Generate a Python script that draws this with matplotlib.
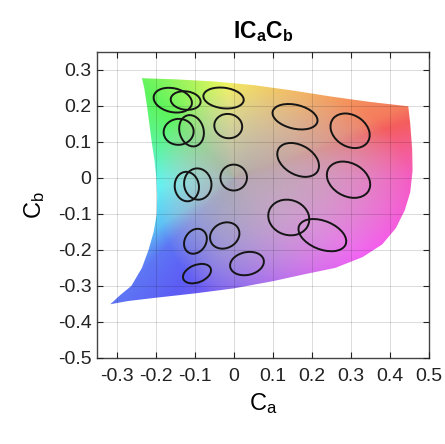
import matplotlib.pyplot as plt
import numpy as np
from matplotlib.patches import Ellipse, Polygon
from matplotlib.colors import hsv_to_rgb

plt.rcParams['font.family'] = ['Liberation Sans', 'DejaVu Sans']
plt.rcParams['mathtext.fontset'] = 'custom'
plt.rcParams['mathtext.rm'] = 'Liberation Sans'
plt.rcParams['mathtext.it'] = 'Liberation Sans'
plt.rcParams['mathtext.bf'] = 'Liberation Sans:bold'
plt.rcParams['axes.unicode_minus'] = False

# gamut outline in the Ca-Cb plane (clockwise from top-left corner)
gamut_ca = [-0.235, -0.15, -0.05, 0.05, 0.15, 0.25, 0.35, 0.447,
            0.452, 0.457, 0.458, 0.452, 0.438, 0.415, 0.38, 0.33, 0.26, 0.18,
            0.10, 0.0, -0.10, -0.20, -0.27, -0.316,
            -0.29, -0.262, -0.235, -0.218, -0.205, -0.197, -0.196, -0.198,
            -0.203, -0.21, -0.216, -0.222, -0.229]
gamut_cb = [0.277, 0.274, 0.268, 0.258, 0.243, 0.226, 0.211, 0.199,
            0.15, 0.08, 0.02, -0.04, -0.09, -0.14, -0.185, -0.22, -0.25, -0.268,
            -0.287, -0.307, -0.321, -0.333, -0.342, -0.351,
            -0.325, -0.30, -0.25, -0.20, -0.15, -0.10, -0.05, 0.0,
            0.05, 0.10, 0.15, 0.20, 0.25]

# discrimination ellipses: centre, full axes, rotation (deg)
ell_ca = [-0.156, -0.123, -0.026, -0.141, -0.108, -0.014, 0.157, 0.298, 0.165, 0.294,
          -0.120, -0.092, 0.000, 0.141, 0.227, -0.098, -0.023, 0.034, -0.094]
ell_cb = [0.216, 0.215, 0.222, 0.128, 0.131, 0.144, 0.170, 0.131, 0.050, -0.005,
          -0.024, -0.017, 0.001, -0.110, -0.159, -0.176, -0.160, -0.238, -0.266]
ell_w = [0.100, 0.077, 0.104, 0.077, 0.062, 0.072, 0.118, 0.110, 0.118, 0.120,
         0.062, 0.070, 0.068, 0.108, 0.130, 0.055, 0.080, 0.088, 0.076]
ell_h = [0.066, 0.051, 0.057, 0.072, 0.088, 0.067, 0.066, 0.085, 0.080, 0.090,
         0.082, 0.087, 0.072, 0.096, 0.078, 0.072, 0.068, 0.063, 0.048]
ell_ang = [-15, -8, -8, 10, 12, -20, -15, -40, -35, -35,
           5, 5, 0, -30, -25, -25, 40, 15, 25]

xticks = [-0.3, -0.2, -0.1, 0, 0.1, 0.2, 0.3, 0.4, 0.5]
yticks = [-0.5, -0.4, -0.3, -0.2, -0.1, 0, 0.1, 0.2, 0.3]

fig = plt.figure(figsize=(4.45, 4.44), dpi=100)
ax = fig.add_axes([0.218, 0.194, 0.746, 0.689])

# colour the gamut: hue from direction, saturation rising towards the rim
gx, gy = np.meshgrid(np.linspace(-0.33, 0.47, 400), np.linspace(-0.36, 0.29, 400))
u = np.where(gx > 0, gx / 0.45, gx / 0.2)
v = np.where(gy > 0, gy / 0.27, gy / 0.34)
r = np.clip(np.hypot(u, v), 0, 1)
phi = np.degrees(np.arctan2(gy, gx)) % 360
hue = np.interp(phi, [0, 13, 24, 50, 90, 130, 180, 215, 228, 270, 310, 360],
                [320, 345, 372, 392, 415, 475, 535, 560, 590, 615, 650, 680]) % 360 / 360
sat = 0.08 + 0.54 * r ** 1.6
val = 0.71 + 0.25 * r ** 1.2
rgb = hsv_to_rgb(np.dstack([hue, sat, val]))

outline = Polygon(np.column_stack([gamut_ca, gamut_cb]), closed=True,
                  facecolor='none', edgecolor='none')
ax.add_patch(outline)
img = ax.imshow(rgb, extent=[-0.33, 0.47, -0.36, 0.29], origin='lower',
                interpolation='bilinear', aspect='auto', zorder=1)
img.set_clip_path(outline)

for ca, cb, w, h, a in zip(ell_ca, ell_cb, ell_w, ell_h, ell_ang):
    ax.add_patch(Ellipse((ca, cb), w, h, angle=a, fill=False,
                         edgecolor='#151515', linewidth=1.4, zorder=3))

ax.set_xlim(-0.35, 0.5)
ax.set_ylim(-0.5, 0.35)
ax.set_xticks(xticks)
ax.set_yticks(yticks)
ax.set_xticklabels(['%g' % t for t in xticks])
ax.set_yticklabels(['%g' % t for t in yticks])
ax.grid(True, color='black', alpha=0.14, linewidth=0.7)
ax.set_axisbelow(False)
ax.tick_params(direction='in', top=True, right=True, length=4, width=0.8,
               labelsize=14, colors='#222222')
ax.tick_params(axis='x', pad=7)
ax.tick_params(axis='y', pad=4)
for s in ax.spines.values():
    s.set_color('#444444')
    s.set_linewidth(1.0)

ax.set_title(r'$\mathbf{IC_aC_b}$', fontsize=16.5, pad=10)
ax.set_xlabel(r'$\mathregular{C_a}$', fontsize=17, labelpad=5)
ax.set_ylabel(r'$\mathregular{C_b}$', fontsize=17, labelpad=8)

plt.savefig('out.png', dpi=100)
